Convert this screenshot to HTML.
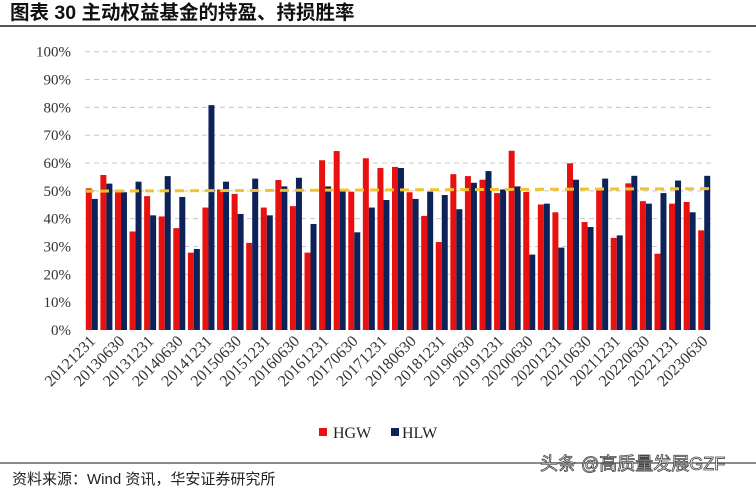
<!DOCTYPE html>
<html><head><meta charset="utf-8"><style>
html,body{margin:0;padding:0;background:#fff;width:756px;height:490px;overflow:hidden}
svg{display:block}
</style></head><body>
<svg id="chart" width="756" height="490" xmlns="http://www.w3.org/2000/svg">
<text x="10" y="19" font-family="'Liberation Sans','Noto Sans CJK SC',sans-serif" font-size="19.5" font-weight="bold" fill="#111">图表 30  主动权益基金的持盈、持损胜率</text>
<line x1="0" y1="26" x2="756" y2="26" stroke="#555" stroke-width="2"/>
<g id="grid"></g><g id="yticks"></g><g id="bars"></g><g id="xlabels"></g><g id="avg"></g>
<g font-family="'Liberation Serif',serif" font-size="16" fill="#222">
<rect x="319" y="428" width="8" height="8" fill="#e8110f"/>
<text x="333" y="438">HGW</text>
<rect x="391" y="428" width="8" height="8" fill="#0c2259"/>
<text x="402" y="438">HLW</text>
</g>
<line x1="0" y1="463" x2="756" y2="463" stroke="#666" stroke-width="1.5"/>
<text x="12" y="484" font-family="'Liberation Sans','Noto Sans CJK SC',sans-serif" font-size="15" fill="#222">资料来源：Wind 资讯，华安证券研究所</text>
<text x="540" y="470" font-family="'Liberation Sans','Noto Sans CJK SC',sans-serif" font-size="18" fill="#fff" stroke="#444" stroke-width="0.8">头条 @高质量发展GZF</text>
</svg>
<script>
const categories=[];
(function(){let y=2012,h=4;for(let i=0;i<43;i++){categories.push(y+['0331','0630','0930','1231'][h-1]);h++;if(h>4){h=1;y++;}}})();
const hgw=[50.9,55.7,49.5,35.4,48.1,40.8,36.6,27.8,44,50.5,48.9,31.3,44,53.9,44.5,27.8,61,64.3,49.7,61.7,58.2,58.6,49.5,41,31.6,56,55.3,54,49.2,64.4,49.6,45.1,42.3,59.9,38.8,50.5,33.1,52.7,46.3,27.4,45.4,46,35.8];
const hlw=[47.1,52.6,49.5,53.3,41.2,55.3,47.8,29.1,80.8,53.3,41.7,54.4,41.2,51.6,54.7,38.1,51.6,50.2,35.1,44,46.7,58.2,47.1,49.7,48.5,43.4,52.9,57.1,50.5,51.6,27.1,45.4,29.6,54,37,54.4,34,55.4,45.4,49.2,53.7,42.3,55.4];
const avgLine=[49.9,50.8];
const yTicks=[0,10,20,30,40,50,60,70,80,90,100];
const NS='http://www.w3.org/2000/svg';
const x0=85,x1=712,yBase=330,yTop=51.7;
const pitch=(x1-x0)/categories.length;
function Y(v){return yBase-(yBase-yTop)*v/100;}
function X(i){return x0+i*pitch;}
function mk(tag,attrs,parent){const e=document.createElementNS(NS,tag);for(const k in attrs)e.setAttribute(k,attrs[k]);document.getElementById(parent).appendChild(e);return e;}
yTicks.forEach(t=>{
 if(t>0){const l=mk('line',{x1:x0,x2:x1,y1:Y(t),y2:Y(t),stroke:'#c8c8c8','stroke-width':1,'stroke-dasharray':'5,4'},'grid');
 
 }
 const tx=mk('text',{x:71,y:Y(t)+5,'text-anchor':'end','font-family':"'Liberation Serif',serif",'font-size':15,fill:'#333'},'yticks');
 tx.textContent=t+'%';
 
 
});
const bw=6;
categories.forEach((c,i)=>{
 const gx=X(i)+0.8;
 const r=mk('rect',{x:gx,y:Y(hgw[i]),width:bw,height:yBase-Y(hgw[i]),fill:'#e8110f'},'bars');
 
 
 const b=mk('rect',{x:gx+bw,y:Y(hlw[i]),width:bw,height:yBase-Y(hlw[i]),fill:'#0c2259'},'bars');
 
 
 if(i%2===0){
  const cx=X(i)+pitch/2+4,cy=342;
  const t=mk('text',{x:cx,y:cy,'text-anchor':'end','font-family':"'Liberation Serif',serif",'font-size':16,fill:'#333',transform:'rotate(-45 '+cx+' '+cy+')'},'xlabels');
  t.textContent=c;
  
  
 }
});
const al=mk('line',{x1:x0,x2:x1,y1:Y(avgLine[0]),y2:Y(avgLine[1]),stroke:'#f2c230','stroke-width':3,'stroke-dasharray':'9,6'},'avg');


</script>
</body></html>
